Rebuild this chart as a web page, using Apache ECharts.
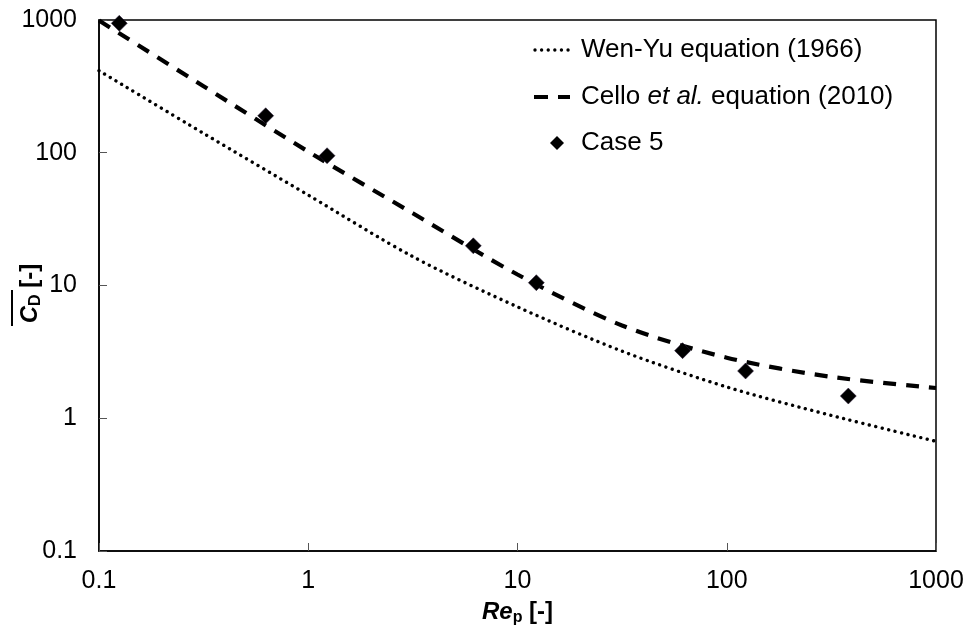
<!DOCTYPE html>
<html>
<head>
<meta charset="utf-8">
<script src="https://cdn.jsdelivr.net/npm/echarts@6/dist/echarts.min.js"></script>
<style>
  html, body { margin: 0; padding: 0; background: #fff; }
  #chart { width: 972px; height: 633px; }
</style>
</head>
<body>
<div id="chart"></div>
<script>
// Particle Reynolds number sampled along the two drag correlations
const reGrid = [0.1, 0.316, 1, 3.16, 10, 31.6, 100, 316, 1000];
// Mean drag coefficient from the Wen-Yu correlation (1966)
const wenYu = [415, 140, 48, 16.5, 6.9, 3.2, 1.72, 1.05, 0.67];
// Mean drag coefficient from the Cello et al. correlation (2010)
const cello = [990, 317, 102, 35, 12.1, 5.0, 2.86, 2.05, 1.69];
// Simulated points, Case 5
const caseRe = [0.125, 0.626, 1.23, 6.15, 12.3, 61.5, 123, 381];
const caseCd = [944, 190, 95, 19.9, 10.5, 3.23, 2.27, 1.47];
// Decade tick labels shared by both axes
const decadeTicks = [0.1, 1, 10, 100, 1000];
// Legend entries
const seriesNames = ['Wen-Yu equation (1966)', 'Cello et al. equation (2010)', 'Case 5'];

const pair = (xs, ys) => xs.map((x, i) => [x, ys[i]]);
const FONT = '"Liberation Sans", Arial, sans-serif';

const DOTTED = { color: '#000', width: 3.4, type: [0.01, 6.6], cap: 'round' };
const DASHED = { color: '#000', width: 4.2, type: [13, 10], cap: 'butt' };

const chart = echarts.init(document.getElementById('chart'), null, { renderer: 'canvas' });

const axisCommon = {
  type: 'log',
  logBase: 10,
  min: decadeTicks[0],
  max: decadeTicks[decadeTicks.length - 1],
  axisLine: { show: true, onZero: false, lineStyle: { color: '#000', width: 1.5 } },
  axisTick: { show: true, inside: true, length: 8, lineStyle: { color: '#555', width: 1 } },
  minorTick: { show: false },
  splitLine: { show: false },
  nameMoveOverlap: false,
  axisLabel: {
    fontFamily: FONT, fontSize: 25, color: '#000',
    formatter: v => String(decadeTicks.find(t => Math.abs(Math.log10(t) - Math.log10(v)) < 1e-6) ?? v)
  }
};

// Hand-built legend block (top right of the plot)
const legendX = 535, legendTextX = 581, legendRows = [50, 97, 143];
const legendText = (y, rich) => ({
  type: 'text', x: legendTextX, y: y, silent: true,
  style: {
    text: rich, fill: '#000', font: '26px ' + FONT, verticalAlign: 'middle', align: 'left',
    rich: {
      n: { fontFamily: FONT, fontSize: 26, fill: '#000' },
      i: { fontFamily: FONT, fontSize: 26, fontStyle: 'italic', fill: '#000' }
    }
  }
});
const [nameA, nameB] = seriesNames[1].split('et al.');

chart.setOption({
  backgroundColor: '#fff',
  animation: false,
  grid: {
    left: 99, right: 36, top: 20, bottom: 82,
    outerBoundsMode: 'none', containLabel: false,
    show: true, borderColor: '#000', borderWidth: 1.5, backgroundColor: 'transparent'
  },
  xAxis: Object.assign({}, axisCommon, {
    axisLabel: Object.assign({}, axisCommon.axisLabel, { margin: 18 }),
    name: '{r|Re}{s|p}{t| [-]}',
    nameLocation: 'middle',
    nameGap: 47,
    nameTextStyle: {
      rich: {
        r: { fontFamily: FONT, fontSize: 24, fontWeight: 'bold', fontStyle: 'italic', color: '#000' },
        s: { fontFamily: FONT, fontSize: 16, fontWeight: 'bold', color: '#000', padding: [12, 0, 0, 0] },
        t: { fontFamily: FONT, fontSize: 24, fontWeight: 'bold', color: '#000' }
      }
    }
  }),
  yAxis: Object.assign({}, axisCommon, {
    axisLabel: Object.assign({}, axisCommon.axisLabel, { margin: 22 }),
    name: '{c|C}{s|D}{t| [-]}',
    nameLocation: 'middle',
    nameRotate: 90,
    nameGap: 55,
    nameTextStyle: {
      padding: [0, 16, 0, 0],
      rich: {
        c: { fontFamily: FONT, fontSize: 24, fontWeight: 'bold', fontStyle: 'italic', color: '#000' },
        s: { fontFamily: FONT, fontSize: 16, fontWeight: 'bold', color: '#000', padding: [12, 0, 0, 0] },
        t: { fontFamily: FONT, fontSize: 24, fontWeight: 'bold', color: '#000' }
      }
    }
  }),
  graphic: [
    // bar over the mean-drag symbol
    { type: 'rect', left: 11, top: 290, shape: { width: 2, height: 36 }, style: { fill: '#000' }, silent: true },
    // legend row 1: dotted sample
    { type: 'line', silent: true, shape: { x1: legendX, y1: legendRows[0], x2: legendX + 35, y2: legendRows[0] },
      style: { stroke: '#000', lineWidth: DOTTED.width, lineDash: DOTTED.type, lineCap: 'round' } },
    legendText(legendRows[0], '{n|' + seriesNames[0] + '}'),
    // legend row 2: dashed sample
    { type: 'line', silent: true, shape: { x1: legendX - 1, y1: legendRows[1], x2: legendX + 35, y2: legendRows[1] },
      style: { stroke: '#000', lineWidth: DASHED.width, lineDash: [14, 10], lineCap: 'butt' } },
    legendText(legendRows[1], '{n|' + nameA + '}{i|et al.}{n|' + nameB + '}'),
    // legend row 3: diamond marker
    { type: 'polygon', silent: true,
      shape: { points: [[557, legendRows[2] - 7], [564, legendRows[2]], [557, legendRows[2] + 7], [550, legendRows[2]]] },
      style: { fill: '#000' } },
    legendText(legendRows[2], '{n|' + seriesNames[2] + '}')
  ],
  series: [
    {
      name: seriesNames[0],
      type: 'line',
      data: pair(reGrid, wenYu),
      smooth: 0.3,
      symbol: 'none',
      lineStyle: DOTTED,
      z: 2
    },
    {
      name: seriesNames[1],
      type: 'line',
      data: pair(reGrid, cello),
      smooth: 0.3,
      symbol: 'none',
      lineStyle: DASHED,
      z: 3
    },
    {
      name: seriesNames[2],
      type: 'scatter',
      data: pair(caseRe, caseCd),
      symbol: 'diamond',
      symbolSize: 16,
      itemStyle: { color: '#000', opacity: 1, borderColor: '#2a1a3a', borderWidth: 0.5 },
      z: 4
    }
  ]
});
</script>
</body>
</html>
